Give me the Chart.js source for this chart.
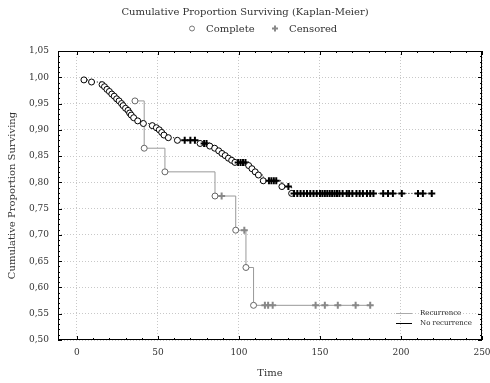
<!DOCTYPE html>
<html>
<head>
<meta charset="utf-8">
<script src="https://cdn.jsdelivr.net/npm/chart.js@4/dist/chart.umd.min.js"></script>
<style>
    html, body { margin: 0; padding: 0; background: #fff; }
</style>
</head>
<body>
<canvas id="kmChart" width="490" height="383"></canvas>
<script>
// Recurrence group (1 = censored)
const recTime = [35.8, 41.5, 54.3, 85.2, 89.3, 98, 103.3, 104.3, 109, 116, 118, 120.8, 147.3, 153, 161, 172, 181];
const recSurv = [0.955, 0.865, 0.820, 0.774, 0.774, 0.709, 0.709, 0.638, 0.566, 0.566, 0.566, 0.566, 0.566, 0.566, 0.566, 0.566, 0.566];
const recCens = [0, 0, 0, 0, 1, 0, 1, 0, 0, 1, 1, 1, 1, 1, 1, 1, 1];

// No recurrence group
const noRecTime = [4.3, 9, 15.5, 17, 18.5, 20, 21.5, 23, 24.5, 26, 27.5, 28.5, 30, 31.5, 32.5, 33.5, 35, 37.5, 41,
    46.5, 49, 50.8, 52.3, 53.7, 56.4, 62, 66.5, 70, 72.8, 76, 78.5, 80, 82, 85, 87.5, 89.5, 91.5, 93.5, 95.5, 97.5,
    99.5, 101, 102.5, 104, 106, 108, 110, 112, 115, 118.5, 120, 121.5, 123, 126.5, 130.5, 132.5,
    134, 136, 138, 140, 142, 144, 146, 148, 150, 151.5, 153, 154.5, 156, 157.5, 159, 160.5, 162, 164, 166.5, 168,
    170, 172.5, 174.5, 176.5, 179, 181, 183, 189, 192, 195, 200.5, 210.5, 213.5, 219];
const noRecSurv = [0.995, 0.991, 0.986, 0.982, 0.977, 0.973, 0.968, 0.964, 0.959, 0.955, 0.950, 0.946, 0.941, 0.937, 0.932, 0.928, 0.923, 0.917, 0.912,
    0.908, 0.904, 0.900, 0.895, 0.890, 0.885, 0.880, 0.880, 0.880, 0.880, 0.874, 0.874, 0.874, 0.869, 0.865, 0.860, 0.855, 0.851, 0.846, 0.842, 0.838,
    0.838, 0.838, 0.838, 0.838, 0.832, 0.826, 0.820, 0.814, 0.803, 0.803, 0.803, 0.803, 0.803, 0.792, 0.792, 0.779,
    0.779, 0.779, 0.779, 0.779, 0.779, 0.779, 0.779, 0.779, 0.779, 0.779, 0.779, 0.779, 0.779, 0.779, 0.779, 0.779, 0.779, 0.779, 0.779, 0.779,
    0.779, 0.779, 0.779, 0.779, 0.779, 0.779, 0.779, 0.779, 0.779, 0.779, 0.779, 0.779, 0.779, 0.779];
const noRecCens = [0, 0, 0, 0, 0, 0, 0, 0, 0, 0, 0, 0, 0, 0, 0, 0, 0, 0, 0,
    0, 0, 0, 0, 0, 0, 0, 1, 1, 1, 0, 1, 1, 0, 0, 0, 0, 0, 0, 0, 0,
    1, 1, 1, 1, 0, 0, 0, 0, 0, 1, 1, 1, 1, 0, 1, 0,
    1, 1, 1, 1, 1, 1, 1, 1, 1, 1, 1, 1, 1, 1, 1, 1, 1, 1, 1, 1,
    1, 1, 1, 1, 1, 1, 1, 1, 1, 1, 1, 1, 1, 1];

// Axis ticks
const xTicks = [0, 50, 100, 150, 200, 250];
const yTicks = [0.50, 0.55, 0.60, 0.65, 0.70, 0.75, 0.80, 0.85, 0.90, 0.95, 1.00, 1.05];

const serif = "'DejaVu Serif', serif";
const textColor = "#333";

function toPoints(times, surv) {
    return times.map((t, i) => ({ x: t, y: surv[i] }));
}

// Frame with inward ticks, marker legend on top and group legend at bottom right
const framePlugin = {
    id: "framePlugin",
    beforeDatasetsDraw(chart) {
        const { ctx, chartArea: a, scales: { x, y } } = chart;
        ctx.save();
        ctx.strokeStyle = "#000";
        ctx.lineWidth = 1;
        ctx.strokeRect(a.left + 0.5, a.top + 0.5, a.right - a.left - 1, a.bottom - a.top - 1);
        ctx.beginPath();
        for (let v = 0; v <= 250; v += 10) {
            const px = Math.round(x.getPixelForValue(v)) + 0.5;
            const len = v % 50 === 0 ? 4 : 2;
            ctx.moveTo(px, a.bottom); ctx.lineTo(px, a.bottom - len);
            ctx.moveTo(px, a.top); ctx.lineTo(px, a.top + len);
        }
        for (let i = 50; i <= 105; i++) {
            const py = Math.round(y.getPixelForValue(i / 100)) + 0.5;
            const len = i % 5 === 0 ? 4 : 2;
            ctx.moveTo(a.left, py); ctx.lineTo(a.left + len, py);
            ctx.moveTo(a.right, py); ctx.lineTo(a.right - len, py);
        }
        ctx.stroke();
        ctx.restore();
    },
    afterDraw(chart) {
        const { ctx, chartArea: a, width } = chart;
        ctx.save();
        // marker legend
        const cx = width / 2;
        ctx.font = "10px " + serif;
        ctx.fillStyle = textColor;
        ctx.textBaseline = "middle";
        ctx.fillText("Complete", cx - 39, 29);
        ctx.fillText("Censored", cx + 44, 29);
        ctx.strokeStyle = "#777";
        ctx.lineWidth = 1;
        ctx.beginPath();
        ctx.arc(cx - 53, 28.5, 2.5, 0, Math.PI * 2);
        ctx.stroke();
        ctx.strokeStyle = "#888";
        ctx.lineWidth = 2;
        ctx.beginPath();
        ctx.moveTo(cx + 27, 28.5); ctx.lineTo(cx + 33, 28.5);
        ctx.moveTo(cx + 30, 25.5); ctx.lineTo(cx + 30, 31.5);
        ctx.stroke();

        // group legend
        const lx = a.right - 86;
        ctx.lineWidth = 1;
        ctx.strokeStyle = "#aaa";
        ctx.beginPath();
        ctx.moveTo(lx, a.bottom - 26.5); ctx.lineTo(lx + 16, a.bottom - 26.5);
        ctx.stroke();
        ctx.strokeStyle = "#000";
        ctx.beginPath();
        ctx.moveTo(lx, a.bottom - 16.5); ctx.lineTo(lx + 16, a.bottom - 16.5);
        ctx.stroke();
        ctx.font = "7px " + serif;
        ctx.fillStyle = "#222";
        ctx.fillText("Recurrence", lx + 24, a.bottom - 26.5);
        ctx.fillText("No recurrence", lx + 24, a.bottom - 16.5);
        ctx.restore();
    }
};

const ctx = document.getElementById("kmChart").getContext("2d");

new Chart(ctx, {
    type: "line",
    data: {
        datasets: [
            {
                label: "No recurrence",
                data: toPoints(noRecTime, noRecSurv),
                borderColor: "#000",
                borderWidth: 1,
                borderDash: [1, 2],
                stepped: true,
                fill: false,
                pointStyle: noRecCens.map(c => (c ? "cross" : "circle")),
                pointRadius: noRecCens.map(c => (c ? 3.5 : 3)),
                pointBorderWidth: noRecCens.map(c => (c ? 2 : 1)),
                pointBorderColor: "#000",
                pointBackgroundColor: "#fff",
            },
            {
                label: "Recurrence",
                data: toPoints(recTime, recSurv),
                borderColor: "#999",
                borderWidth: 1,
                stepped: true,
                fill: false,
                pointStyle: recCens.map(c => (c ? "cross" : "circle")),
                pointRadius: recCens.map(c => (c ? 3.5 : 3)),
                pointBorderWidth: recCens.map(c => (c ? 2 : 1)),
                pointBorderColor: recCens.map(c => (c ? "#888" : "#666")),
                pointBackgroundColor: "#fff",
            },
        ],
    },
    options: {
        responsive: false,
        animation: false,
        events: [],
        layout: { padding: 0 },
        plugins: {
            legend: { display: false },
            tooltip: { enabled: false },
            title: {
                display: true,
                text: "Cumulative Proportion Surviving (Kaplan-Meier)",
                color: textColor,
                font: { family: serif, size: 10, weight: "normal" },
                padding: { top: 6, bottom: 33 },
            },
        },
        scales: {
            x: {
                type: "linear",
                min: -11.7,
                max: 250,
                afterBuildTicks: s => { s.ticks = xTicks.map(v => ({ value: v })); },
                afterFit: s => { s.height = 43; s.paddingRight = 8; },
                grid: { color: "#c8c8c8", lineWidth: 1, drawTicks: false },
                border: { display: false, dash: [1, 2] },
                ticks: {
                    padding: 7,
                    color: textColor,
                    font: { family: serif, size: 9 },
                    maxRotation: 0,
                    callback: v => String(v),
                },
                title: {
                    display: true,
                    text: "Time",
                    color: textColor,
                    font: { family: serif, size: 10 },
                    padding: { top: 0, bottom: 4 },
                },
            },
            y: {
                min: 0.5,
                max: 1.05,
                afterBuildTicks: s => { s.ticks = yTicks.map(v => ({ value: v })); },
                afterFit: s => { s.width = 58; },
                grid: { color: "#c8c8c8", lineWidth: 1, drawTicks: false },
                border: { display: false, dash: [1, 2] },
                ticks: {
                    padding: 9,
                    color: textColor,
                    font: { family: serif, size: 9 },
                    callback: v => v.toFixed(2).replace(".", ","),
                },
                title: {
                    display: true,
                    text: "Cumulative Proportion Surviving",
                    color: textColor,
                    font: { family: serif, size: 10 },
                    padding: { top: 6, bottom: 0 },
                },
            },
        },
    },
    plugins: [framePlugin],
});
</script>
</body>
</html>
